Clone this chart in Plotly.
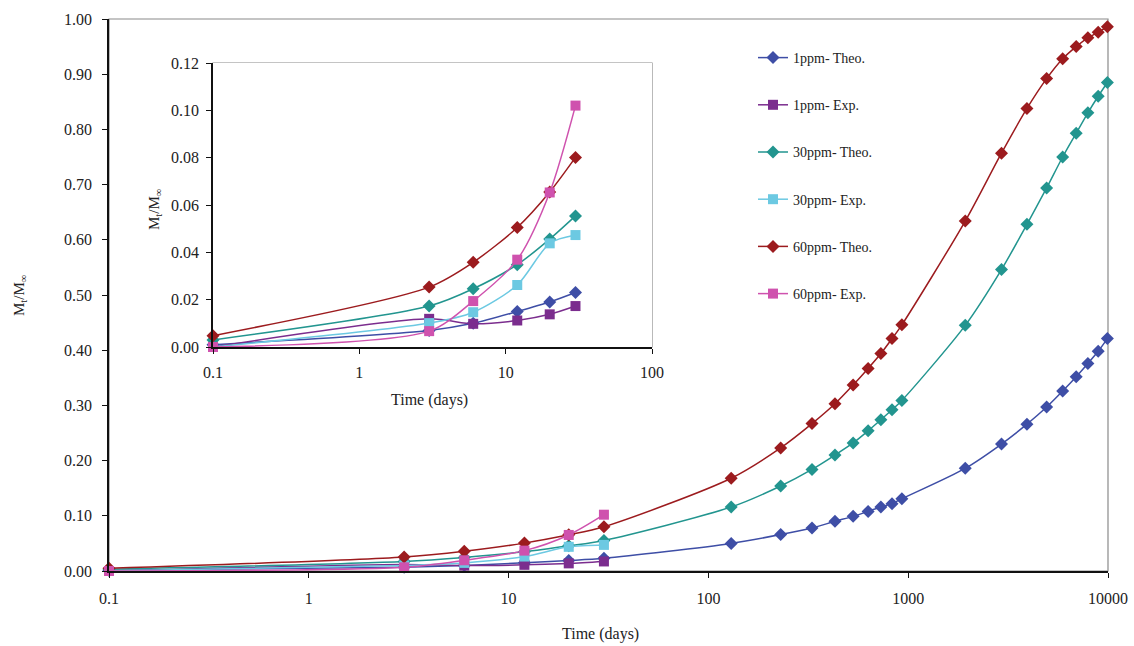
import plotly.graph_objects as go

# ---------------- data ----------------
t_exp = [0.1, 3, 6, 12, 20, 30]
t_theo = [0.1, 3, 6, 12, 20, 30, 130, 230, 330, 430, 530, 630, 730, 830, 930,
          1930, 2930, 3930, 4930, 5930, 6930, 7930, 8930, 9930]

theo_1 = [0.001, 0.007, 0.010, 0.015, 0.019, 0.023, 0.050, 0.066, 0.078, 0.090, 0.099,
          0.108, 0.116, 0.122, 0.131, 0.186, 0.230, 0.266, 0.297, 0.326, 0.352,
          0.376, 0.398, 0.421]
theo_30 = [0.003, 0.0173, 0.0246, 0.0348, 0.0456, 0.0554, 0.116, 0.154, 0.184, 0.210,
           0.232, 0.254, 0.274, 0.292, 0.309, 0.445, 0.546, 0.628, 0.694, 0.750,
           0.793, 0.830, 0.860, 0.885]
theo_60 = [0.0048, 0.0253, 0.0358, 0.0505, 0.0655, 0.0801, 0.168, 0.223, 0.267, 0.303,
           0.337, 0.367, 0.394, 0.421, 0.446, 0.634, 0.757, 0.838, 0.892, 0.928,
           0.950, 0.966, 0.976, 0.986]
exp_1 = [0.0, 0.0119, 0.0098, 0.0112, 0.0138, 0.0173]
exp_30 = [0.0, 0.0101, 0.0147, 0.0262, 0.0438, 0.0473]
exp_60 = [0.0, 0.0067, 0.0194, 0.0369, 0.0653, 0.102]

x_tickvals = [0.1, 1, 10, 100, 1000, 10000]
x_ticktext = ["0.1", "1", "10", "100", "1000", "10000"]
inset_tickvals = [0.1, 1, 10, 100]
inset_ticktext = ["0.1", "1", "10", "100"]

series = [
    ("1ppm- Theo.", t_theo, theo_1, "#3E4EA6", "diamond", 10),
    ("1ppm- Exp.", t_exp, exp_1, "#7B2D8E", "square", 10),
    ("30ppm- Theo.", t_theo, theo_30, "#22958F", "diamond", 10),
    ("30ppm- Exp.", t_exp, exp_30, "#6CC9E2", "square", 10),
    ("60ppm- Theo.", t_theo, theo_60, "#9C1B1E", "diamond", 10),
    ("60ppm- Exp.", t_exp, exp_60, "#CF52AE", "square", 10),
]
inset_n = 6  # points shown in inset (up to 30 days)

W, H = 1134, 646
FONT = "Liberation Serif, Times New Roman, serif"

def px_x(p):
    return p / W

def px_y(p):
    return 1 - p / H

fig = go.Figure()

for name, xs, ys, col, sym, sz in series:
    fig.add_trace(go.Scatter(
        x=xs, y=ys, name=name, mode="lines+markers",
        line=dict(color=col, width=1.5, shape="spline", smoothing=0.8),
        marker=dict(symbol=sym, size=sz, color=col),
        legendgroup=name, cliponaxis=False,
        xaxis="x", yaxis="y"))

for name, xs, ys, col, sym, sz in series:
    fig.add_trace(go.Scatter(
        x=xs[:inset_n], y=ys[:inset_n], name=name, mode="lines+markers",
        line=dict(color=col, width=1.5, shape="spline", smoothing=0.8),
        marker=dict(symbol=sym, size=sz, color=col),
        showlegend=False, cliponaxis=False,
        xaxis="x2", yaxis="y2"))

axis_common = dict(
    showgrid=False, zeroline=False, showline=True, linecolor="#111",
    linewidth=1.5, ticks="outside", ticklen=5, tickcolor="#111", tickwidth=1.3,
    tickfont=dict(family=FONT, size=16, color="#222"), automargin=False,
)

fig.update_layout(
    width=W, height=H,
    margin=dict(l=0, r=0, t=0, b=0, autoexpand=False),
    paper_bgcolor="white", plot_bgcolor="white",
    font=dict(family=FONT, size=15, color="#222"),
    xaxis=dict(type="log", range=[-1, 4], domain=[px_x(109), px_x(1108)],
               tickvals=x_tickvals, ticktext=x_ticktext, anchor="y",
               ticklabelstandoff=7, **axis_common),
    yaxis=dict(range=[0, 1.0], dtick=0.1, tickformat=".2f",
               domain=[px_y(571), px_y(19)], anchor="x",
               ticklabelstandoff=7, **axis_common),
    xaxis2=dict(type="log", range=[-1, 2], domain=[px_x(213), px_x(652)],
                tickvals=inset_tickvals, ticktext=inset_ticktext, anchor="y2",
                ticklabelstandoff=5, **axis_common),
    yaxis2=dict(range=[0, 0.12], dtick=0.02, tickformat=".2f",
                domain=[px_y(347), px_y(63)], anchor="x2",
                ticklabelstandoff=4, **axis_common),
    legend=dict(x=px_x(753), y=px_y(42), xanchor="left", yanchor="top",
                bgcolor="rgba(0,0,0,0)", tracegroupgap=26,
                font=dict(family=FONT, size=14, color="#222")),
    showlegend=True,
)

# gray frames (top/right borders) of main plot and inset
fig.add_shape(type="rect", xref="x domain", yref="y domain", x0=0, x1=1, y0=0, y1=1,
              line=dict(color="#8a8a8a", width=1.2), layer="below")
fig.add_shape(type="rect", xref="x2 domain", yref="y2 domain", x0=0, x1=1, y0=0, y1=1,
              line=dict(color="#8a8a8a", width=1.2), layer="below")

# axis titles
def title(text, xp, yp, angle=0, size=16):
    fig.add_annotation(text=text, xref="paper", yref="paper",
                       x=px_x(xp), y=px_y(yp), xanchor="center", yanchor="middle",
                       showarrow=False, textangle=angle,
                       font=dict(family=FONT, size=size, color="#222"))

title("Time (days)", 600, 634)
title("M<sub>t</sub>/M<sub>∞</sub>", 20, 296, -90, 15)
title("Time (days)", 429, 400)
title("M<sub>t</sub>/M<sub>∞</sub>", 155, 210, -90, 15)

fig.write_html("out.html")
